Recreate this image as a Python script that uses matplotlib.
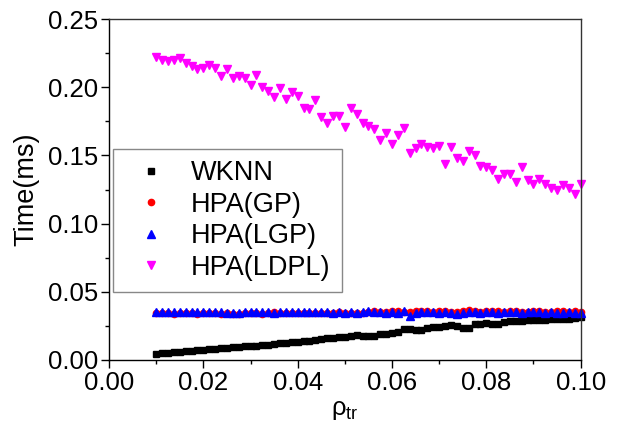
import numpy as np
import matplotlib
matplotlib.use("Agg")
import matplotlib.pyplot as plt
from matplotlib.ticker import MultipleLocator

plt.rcParams['font.family'] = ['Liberation Sans', 'DejaVu Sans']
plt.rcParams['mathtext.fontset'] = 'custom'
plt.rcParams['mathtext.rm'] = 'Liberation Sans'
plt.rcParams['mathtext.it'] = 'Liberation Sans'

rho_tr = np.linspace(0.01, 0.10, 73)

wknn = [0.0045, 0.0049, 0.0053, 0.0056, 0.0060, 0.0064, 0.0067, 0.0071, 0.0074, 0.0078,
        0.0082, 0.0085, 0.0089, 0.0092, 0.0096, 0.0099, 0.0103, 0.0106, 0.0110, 0.0113,
        0.0117, 0.0121, 0.0126, 0.0130, 0.0133, 0.0137, 0.0141, 0.0146, 0.0152, 0.0158,
        0.0162, 0.0167, 0.0172, 0.0176, 0.0180, 0.0178, 0.0176, 0.0178, 0.0187, 0.0193,
        0.0197, 0.0202, 0.0228, 0.0230, 0.0221, 0.0218, 0.0232, 0.0240, 0.0244, 0.0250,
        0.0255, 0.0252, 0.0238, 0.0235, 0.0262, 0.0267, 0.0268, 0.0264, 0.0262, 0.0275,
        0.0283, 0.0286, 0.0288, 0.0290, 0.0291, 0.0294, 0.0296, 0.0298, 0.0300, 0.0303,
        0.0302, 0.0308, 0.0312]

hpa_gp = [0.0345, 0.0342, 0.0346, 0.0340, 0.0344, 0.0347, 0.0343, 0.0340, 0.0345, 0.0348,
          0.0342, 0.0339, 0.0344, 0.0340, 0.0336, 0.0341, 0.0345, 0.0343, 0.0340, 0.0346,
          0.0349, 0.0344, 0.0341, 0.0346, 0.0348, 0.0345, 0.0342, 0.0347, 0.0344, 0.0341,
          0.0346, 0.0349, 0.0344, 0.0341, 0.0347, 0.0343,
          0.0352, 0.0358, 0.0355, 0.0349, 0.0357, 0.0360, 0.0354, 0.0350, 0.0358, 0.0362,
          0.0356, 0.0352, 0.0359, 0.0361, 0.0355, 0.0350, 0.0357, 0.0363, 0.0358, 0.0353,
          0.0359, 0.0362, 0.0356, 0.0351, 0.0358, 0.0360, 0.0355, 0.0352, 0.0359, 0.0361,
          0.0354, 0.0350, 0.0357, 0.0359, 0.0354, 0.0356, 0.0352]

hpa_lgp = [0.0350, 0.0352, 0.0349, 0.0351, 0.0350, 0.0352, 0.0349, 0.0351, 0.0350, 0.0351,
           0.0349, 0.0350, 0.0348, 0.0343, 0.0345, 0.0350, 0.0352, 0.0351, 0.0349, 0.0350,
           0.0348, 0.0350, 0.0349, 0.0351, 0.0350, 0.0350, 0.0351, 0.0349, 0.0350, 0.0352,
           0.0348, 0.0350, 0.0347, 0.0349, 0.0347, 0.0350, 0.0362, 0.0352, 0.0350, 0.0346,
           0.0350, 0.0348, 0.0358, 0.0325, 0.0345, 0.0350, 0.0349, 0.0351, 0.0346, 0.0350,
           0.0348, 0.0340, 0.0348, 0.0350, 0.0349, 0.0346, 0.0350, 0.0352, 0.0348, 0.0350,
           0.0354, 0.0349, 0.0348, 0.0350, 0.0351, 0.0349, 0.0347, 0.0350, 0.0348, 0.0346,
           0.0350, 0.0348, 0.0347]

hpa_ldpl = [0.2223, 0.2199, 0.2192, 0.2199, 0.2212, 0.2175, 0.2155, 0.2138, 0.2143, 0.2162,
            0.2143, 0.2082, 0.2131, 0.2065, 0.2082, 0.2072, 0.2016, 0.2089, 0.2003, 0.1974,
            0.1930, 0.1996, 0.1913, 0.1964, 0.1935, 0.1849, 0.1840, 0.1906, 0.1783, 0.1735,
            0.1790, 0.1788, 0.1710, 0.1845, 0.1803, 0.1735, 0.1717, 0.1691, 0.1612, 0.1666,
            0.1583, 0.1647, 0.1698, 0.1516, 0.1556, 0.1583, 0.1563, 0.1556, 0.1568, 0.1441,
            0.1563, 0.1478, 0.1460, 0.1531, 0.1502, 0.1424, 0.1412, 0.1397, 0.1324, 0.1363,
            0.1363, 0.1306, 0.1412, 0.1319, 0.1294, 0.1331, 0.1294, 0.1258, 0.1250, 0.1282,
            0.1258, 0.1214, 0.1294]

labels = ['WKNN', 'HPA(GP)', 'HPA(LGP)', 'HPA(LDPL)']

fig = plt.figure(figsize=(6.23, 4.26), dpi=100)
ax = fig.add_axes([0.175, 0.155, 0.757, 0.80])

ax.plot(rho_tr, wknn, 's', color='black', markersize=3.8, linestyle='none', label=labels[0], clip_on=False)
ax.plot(rho_tr, hpa_gp, 'o', color='#ff0000', markersize=4.5, linestyle='none', label=labels[1], clip_on=False)
ax.plot(rho_tr, hpa_lgp, '^', color='#0000ff', markersize=5.5, linestyle='none', label=labels[2], clip_on=False)
ax.plot(rho_tr, hpa_ldpl, 'v', color='#ff00ff', markersize=5.5, linestyle='none', label=labels[3], clip_on=False)

ax.set_xlim(0.0, 0.10)
ax.set_ylim(0.0, 0.25)
ax.xaxis.set_major_locator(MultipleLocator(0.02))
ax.xaxis.set_minor_locator(MultipleLocator(0.01))
ax.yaxis.set_major_locator(MultipleLocator(0.05))
ax.yaxis.set_minor_locator(MultipleLocator(0.025))
ax.xaxis.set_major_formatter(matplotlib.ticker.FormatStrFormatter('%.2f'))
ax.yaxis.set_major_formatter(matplotlib.ticker.FormatStrFormatter('%.2f'))

ax.tick_params(which='major', direction='out', length=6, width=1, labelsize=18.5, pad=2)
ax.tick_params(which='minor', direction='out', length=3, width=1)
ax.tick_params(top=False, right=False, which='both')
for side in ['left', 'bottom']:
    ax.spines[side].set_linewidth(1.0)
    ax.spines[side].set_color('black')
for side in ['top', 'right']:
    ax.spines[side].set_linewidth(1.0)
    ax.spines[side].set_color('#333333')

ax.set_ylabel('Time(ms)', fontsize=19.5, labelpad=6)
ax.set_xlabel(r'$\mathrm{\rho_{tr}}$', fontsize=18.5, labelpad=2)

leg = ax.legend(loc='upper left', bbox_to_anchor=(0.0085, 0.619), fontsize=19.5,
                frameon=True, fancybox=False, edgecolor='#888888', framealpha=1,
                handletextpad=0.45, handlelength=2.0, borderpad=0.42, labelspacing=0.2,
                borderaxespad=0, markerscale=1.0)
leg.get_frame().set_linewidth(1.0)

fig.savefig('out.png', dpi=100)
